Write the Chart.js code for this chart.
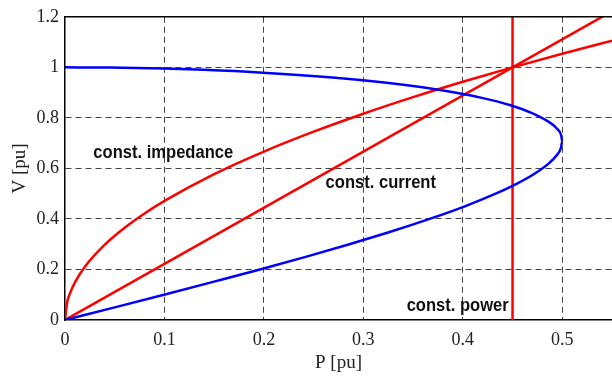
<!DOCTYPE html>
<html>
<head>
<meta charset="utf-8">
<script src="https://cdn.jsdelivr.net/npm/chart.js@4/dist/chart.umd.min.js"></script>
<style>
  html, body { margin: 0; padding: 0; background: #fff; }
  #wrap { width: 612px; height: 379px; position: relative; }
</style>
</head>
<body>
<div id="wrap"><canvas id="c" width="612" height="379"></canvas></div>
<script>
// ---- data ----
const xTicks = [0, 0.1, 0.2, 0.3, 0.4, 0.5];
const yTicks = [0, 0.2, 0.4, 0.6, 0.8, 1, 1.2];

// PV nose curve (blue): P values and V values
const noseP = [0, 0.0447, 0.0994, 0.1397, 0.195, 0.269, 0.321, 0.361, 0.392, 0.418, 0.448, 0.469, 0.484, 0.494, 0.499, 0.5, 0.4986, 0.494, 0.4865, 0.4725, 0.4545, 0.433, 0.402, 0.3666, 0.328, 0.286, 0.242, 0.196, 0.148, 0.0995, 0.05, 0];
const noseV = [1, 0.999, 0.995, 0.99, 0.98, 0.96, 0.94, 0.92, 0.9, 0.88, 0.85, 0.82, 0.79, 0.76, 0.73, 0.707, 0.68, 0.65, 0.62, 0.58, 0.54, 0.5, 0.45, 0.4, 0.35, 0.3, 0.25, 0.2, 0.15, 0.1, 0.05, 0];

// constant impedance load line (red curve)
const impP = [0, 0.002, 0.005, 0.01, 0.02, 0.04, 0.06, 0.08, 0.1, 0.15, 0.2, 0.25, 0.3, 0.35, 0.4, 0.45, 0.5, 0.55];
const impV = [0, 0.0667, 0.105, 0.149, 0.2108, 0.298, 0.365, 0.4216, 0.4714, 0.5774, 0.6667, 0.7454, 0.8165, 0.8819, 0.9428, 1, 1.054, 1.1055];

// constant current load line (red straight)
const curP = [0, 0.45, 0.55];
const curV = [0, 1, 1.2222];

// constant power load line (red vertical)
const powP = [0.45, 0.45];
const powV = [0, 1.2];

// annotation texts and their anchor (data units)
const noteText = ['const. impedance', 'const. current', 'const. power'];
const noteP = [0.0285, 0.262, 0.3435];
const noteV = [0.643, 0.523, 0.037];

const toPts = (xs, ys) => xs.map((x, i) => ({ x: x, y: ys[i] }));

const serif = '"Liberation Serif", "Times New Roman", serif';
const sans = '"Liberation Sans", Arial, sans-serif';

const frame = {
  id: 'frame',
  afterDatasetsDraw(chart) {
    const { ctx, chartArea: a, scales } = chart;
    ctx.save();
    ctx.strokeStyle = '#000';
    ctx.lineWidth = 1.5;
    ctx.beginPath();
    ctx.moveTo(a.left, a.top);
    ctx.lineTo(a.right, a.top);
    ctx.stroke();
    ctx.fillStyle = '#111';
    ctx.font = 'bold 18px ' + sans;
    ctx.textAlign = 'left';
    ctx.textBaseline = 'alphabetic';
    noteText.forEach((t, i) => {
      const px = scales.x.getPixelForValue(noteP[i]);
      const py = scales.y.getPixelForValue(noteV[i]);
      ctx.save();
      ctx.translate(px, py);
      ctx.scale(0.92, 1);
      ctx.fillText(t, 0, 0);
      ctx.restore();
    });
    ctx.restore();
  }
};

const lineDs = (data, color) => ({
  data: data,
  borderColor: color,
  backgroundColor: color,
  borderWidth: 2.5,
  pointRadius: 0,
  showLine: true,
  fill: false,
  tension: 0.3,
  cubicInterpolationMode: 'monotone'
});

new Chart(document.getElementById('c'), {
  type: 'scatter',
  data: {
    datasets: [
      lineDs(toPts(noseP, noseV), '#0000ff'),
      lineDs(toPts(impP, impV), '#ff0000'),
      Object.assign(lineDs(toPts(curP, curV), '#ff0000'), { tension: 0 }),
      Object.assign(lineDs(toPts(powP, powV), '#ff0000'), { tension: 0 })
    ]
  },
  options: {
    responsive: false,
    animation: false,
    layout: { padding: { top: 15, right: 0, left: 0, bottom: 0 } },
    plugins: { legend: { display: false }, tooltip: { enabled: false } },
    scales: {
      x: {
        type: 'linear',
        min: 0, max: 0.55,
        afterFit(s) { s.height = 59; },
        afterBuildTicks(s) { s.ticks = xTicks.map(v => ({ value: v })); },
        ticks: {
          padding: 9,
          color: '#222',
          font: { family: serif, size: 18 },
          callback: v => String(+v.toFixed(2))
        },
        grid: {
          drawTicks: false,
          color: ctx => (ctx.tick && ctx.tick.value === 0) ? 'rgba(0,0,0,0)' : '#444',
          lineWidth: 1
        },
        border: { display: true, color: '#000', width: 1.5, dash: [6, 4] },
        title: {
          display: true,
          text: 'P [pu]',
          color: '#222',
          font: { family: serif, size: 19 },
          padding: { top: 0, bottom: 5 }
        }
      },
      y: {
        type: 'linear',
        min: 0, max: 1.2,
        afterFit(s) { s.width = 65; },
        afterBuildTicks(s) { s.ticks = yTicks.map(v => ({ value: v })); },
        ticks: {
          padding: 6,
          color: '#222',
          font: { family: serif, size: 18 },
          callback: v => String(+v.toFixed(2))
        },
        grid: {
          drawTicks: false,
          color: ctx => (ctx.tick && (ctx.tick.value === 0 || ctx.tick.value === 1.2)) ? 'rgba(0,0,0,0)' : '#444',
          lineWidth: 1
        },
        border: { display: true, color: '#000', width: 1.5, dash: [6, 4] },
        title: {
          display: true,
          text: 'V [pu]',
          color: '#222',
          font: { family: serif, size: 19 },
          padding: { top: 9, bottom: 0 }
        }
      }
    }
  },
  plugins: [frame]
});
</script>
</body>
</html>
